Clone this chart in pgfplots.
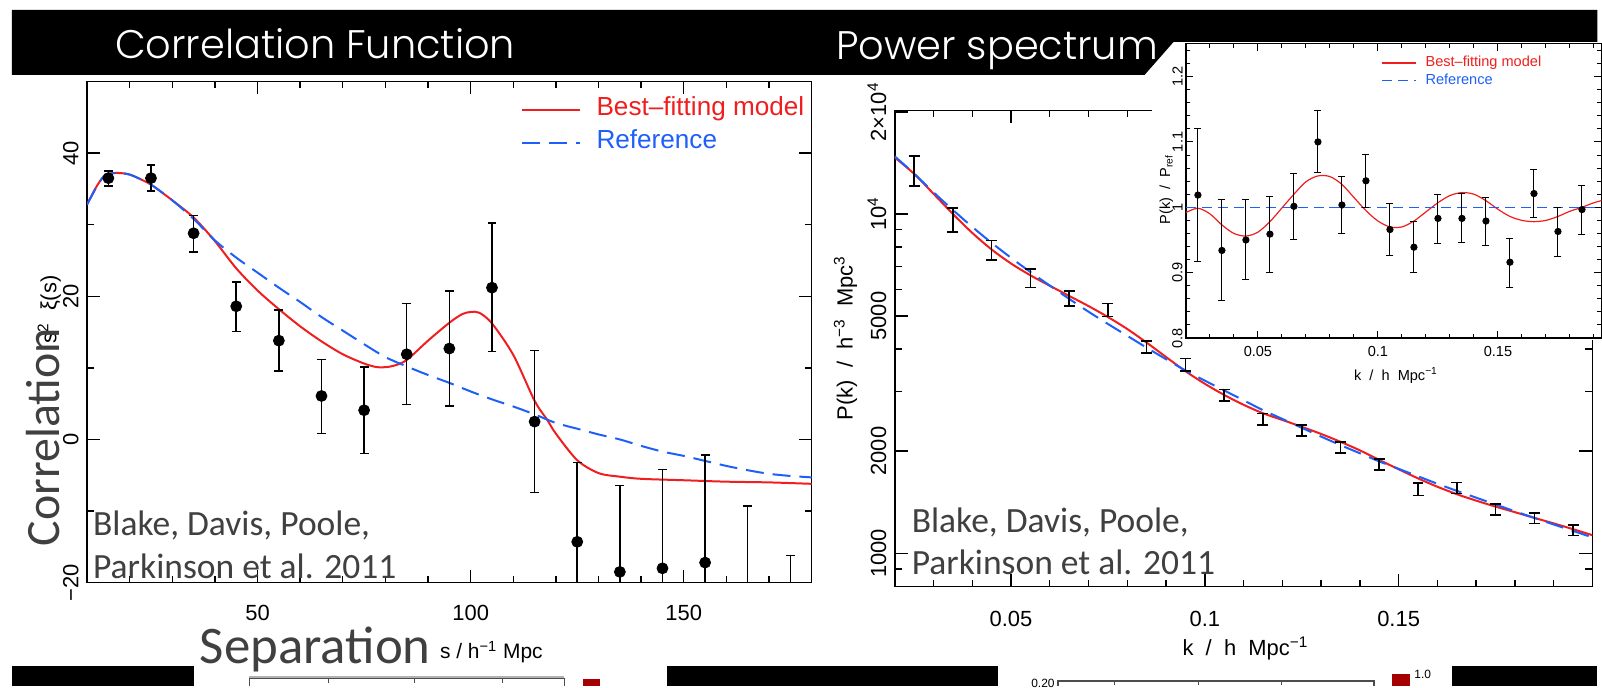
\documentclass[border=0pt]{standalone}
\usepackage{pgfplots}
\pgfplotsset{compat=1.18}
\usepackage{fontspec}
\setmainfont{Liberation Sans}
\newfontfamily\calfont{Carlito}
\newfontfamily\titlefont{Poppins Light}
\definecolor{pgred}{RGB}{240,30,30}
\definecolor{pgblue}{RGB}{30,95,250}
\definecolor{slidegray}{RGB}{64,64,64}

\pgfplotstableread{
s v ep em
15 36.5 1.0 1.1
25 36.5 1.8 1.8
35 28.8 2.5 2.6
45 18.6 3.4 3.5
55 13.8 4.3 4.25
65 6.07 5.13 5.22
75 4.08 6.07 6.02
85 11.9 7.1 7.0
95 12.7 8.05 8.0
105 21.2 9.05 8.9
115 2.49 9.9 9.9
125 -14.3 11.1 11.1
135 -18.5 12.1 12.1
145 -18.0 13.8 13.8
155 -17.2 15.0 15.0
165 -23.0 13.7 13.7
175 -30.0 13.8 13.8
}\xidata

\pgfplotstableread{
k p ep em
0.025 13390 1440 1300
0.035 9600 820 750
0.045 7820 535 495
0.055 6470 410 390
0.065 5640 290 285
0.075 5210 235 220
0.085 4050 170 158
0.095 3600 155 151
0.105 2920 119 114
0.115 2486 97 94
0.125 2305 88 84
0.135 2050 81 77
0.145 1826 67 64
0.155 1545 64 63
0.165 1560 58 58
0.175 1344 51 49
0.185 1269 48 46
0.195 1170 42 41
}\pkdata

\pgfplotstableread{
k r ep em
0.025 1.0187 0.1013 0.1012
0.035 0.934 0.0776 0.077
0.045 0.950 0.062 0.061
0.055 0.959 0.058 0.058
0.065 1.0015 0.0505 0.0505
0.075 1.100 0.048 0.047
0.085 1.0035 0.0435 0.043
0.095 1.0405 0.040 0.0405
0.105 0.966 0.040 0.040
0.115 0.939 0.039 0.038
0.125 0.983 0.037 0.038
0.135 0.983 0.038 0.037
0.145 0.979 0.036 0.037
0.155 0.916 0.037 0.038
0.165 1.021 0.037 0.037
0.175 0.963 0.037 0.038
0.185 0.9965 0.0375 0.0375
}\ratiodata

\begin{document}
\begin{tikzpicture}
\begin{scope}[x=0.5pt,y=0.5pt]
\path[use as bounding box, fill=white] (0,0) rectangle (1602,688);
\end{scope}

% ---------------- Left: correlation function ----------------
\begin{axis}[
  at={(43.65pt,51.85pt)}, anchor=south west, scale only axis,
  width=363.35pt, height=251.3pt,
  xmin=10, xmax=180, ymin=-20, ymax=50,
  xtick={50,100,150}, minor xtick={10,20,30,40,60,70,80,90,110,120,130,140,160,170},
  ytick={-20,0,20,40}, yticklabels={−20,0,20,40}, minor ytick={-10,10,30,50},
  tick align=inside, tick pos=both,
  major tick length=6.5pt, minor tick length=3.5pt,
  every tick/.style={black, line width=0.7pt},
  axis line style={line width=0.8pt},
  /pgf/number format/assume math mode=true,
  tick label style={font=\fontsize{11}{13}\selectfont},
  yticklabel style={rotate=90, anchor=south, inner sep=0pt},
  yticklabel shift=4pt,
  xticklabel style={anchor=north, inner sep=0pt},
  xticklabel shift=11pt,
  ylabel={s\textsuperscript{2}\ \ ξ(s)},
  ylabel style={at={(axis description cs:-0.0425,0.545)}, anchor=base, inner sep=0pt, font=\fontsize{11}{13}\selectfont},
  xlabel={s\ /\ h\textsuperscript{−1}\ Mpc},
  xlabel style={at={(axis description cs:0.558,-0.1387)}, anchor=center, inner sep=0pt, font=\fontsize{10.5}{12}\selectfont},
  legend style={at={(0.598,0.968)}, anchor=north west, draw=none, fill=none,
    font=\fontsize{13.1}{15}\selectfont, row sep=4.5pt, column sep=8pt, inner sep=0pt,
    nodes={inner sep=0pt, text height=9pt, text depth=3pt}},
  legend cell align=left,
  legend image code/.code={\draw[#1] (0pt,0pt) -- (29pt,0pt);},
]
\addplot[pgred, line width=1pt, smooth] coordinates {
(10,32.8)(12,35.1)(14,36.8)(16,37.2)(18,37.2)(20,37.0)(22,36.5)(25,35.6)(28,34.3)(30,33.4)
(35,31.0)(40,27.7)(45,23.9)(50,20.8)(55,18.2)(60,15.8)(65,13.7)(70,11.9)(75,10.6)(78,10.1)
(80,10.1)(82,10.3)(85,11.1)(90,13.8)(95,16.3)(98,17.5)(100,17.8)(102,17.7)(105,16.2)(110,11.8)
(115,5.4)(118,2.7)(120,0.8)(125,-2.9)(130,-4.7)(135,-5.2)(140,-5.5)(150,-5.7)(160,-5.9)(170,-6.0)(180,-6.2)};
\addlegendentry{\textcolor{pgred}{Best–fitting model}}
\addplot[pgblue, line width=1pt, dash pattern=on 9pt off 4.5pt, smooth] coordinates {
(10,32.8)(12,35.0)(14,36.8)(16,37.2)(18,37.2)(20,37.0)(22,36.5)(25,35.6)(30,33.4)(35,30.8)
(40,27.8)(45,25.4)(50,23.3)(55,21.2)(60,19.2)(65,17.1)(70,15.2)(75,13.3)(80,11.5)(85,10.2)
(90,9.0)(95,7.9)(100,6.7)(105,5.6)(110,4.6)(115,3.5)(120,2.3)(125,1.5)(130,0.7)(135,0.0)
(140,-0.9)(145,-1.7)(150,-2.3)(155,-3.0)(160,-3.7)(165,-4.3)(170,-4.8)(175,-5.1)(180,-5.3)};
\addlegendentry{\textcolor{pgblue}{Reference}}
\addplot[forget plot, only marks, mark=*, mark size=2.75pt, black,
  error bars/.cd, y dir=both, y explicit,
  error bar style={line width=0.75pt, black},
  error mark options={rotate=90, mark size=2.25pt, line width=0.75pt, black}]
  table[x=s, y=v, y error plus=ep, y error minus=em] {\xidata};
\end{axis}

% ---------------- Right: power spectrum ----------------
\begin{axis}[
  at={(448.65pt,49.85pt)}, anchor=south west, scale only axis,
  width=349.85pt, height=238.8pt,
  ymode=log, xmin=0.02, xmax=0.2, ymin=798, ymax=20200,
  xtick={0.05,0.1,0.15}, xticklabels={0.05,0.1,0.15},
  minor xtick={0.02,0.03,0.04,0.06,0.07,0.08,0.09,0.11,0.12,0.13,0.14,0.16,0.17,0.18,0.19,0.2},
  ytick={1000,2000,5000,10000,20000},
  yticklabels={1000,2000,5000,10\textsuperscript{4},2×10\textsuperscript{4}},
  minor ytick={800,900,3000,4000,6000,7000,8000,9000},
  tick align=inside, tick pos=both,
  major tick length=6.5pt, minor tick length=3.5pt,
  every tick/.style={black, line width=0.7pt},
  axis line style={line width=0.8pt},
  /pgf/number format/assume math mode=true,
  tick label style={font=\fontsize{11}{13}\selectfont},
  yticklabel style={rotate=90, anchor=south, inner sep=0pt},
  yticklabel shift=4pt,
  xticklabel style={anchor=north, inner sep=0pt},
  xticklabel shift=12pt,
  ylabel={P(k)\ \ /\ \ h\textsuperscript{−3}\ \ Mpc\textsuperscript{3}},
  ylabel style={at={(axis description cs:-0.0705,0.522)}, anchor=center, inner sep=0pt, font=\fontsize{11}{13}\selectfont},
  xlabel={k\ \ /\ \ h\ \ Mpc\textsuperscript{−1}},
  xlabel style={at={(axis description cs:0.5027,-0.129)}, anchor=center, inner sep=0pt, font=\fontsize{11}{13}\selectfont},
]
\addplot[pgred, line width=1pt, smooth] coordinates {
(0.020,14673)(0.025,13132)(0.030,11472)(0.035,10002)(0.040,8796)(0.045,7860)(0.050,7148)
(0.055,6597)(0.060,6146)(0.065,5735)(0.070,5353)(0.075,4970)(0.080,4581)(0.085,4177)
(0.090,3789)(0.095,3442)(0.100,3160)(0.105,2929)(0.110,2740)(0.115,2587)(0.120,2472)
(0.125,2360)(0.130,2248)(0.135,2131)(0.140,2011)(0.145,1885)(0.150,1769)(0.155,1663)
(0.160,1571)(0.165,1494)(0.170,1430)(0.175,1373)(0.180,1322)(0.185,1272)(0.190,1225)
(0.195,1178)(0.200,1131)};
\addplot[pgblue, line width=1pt, dash pattern=on 9pt off 4.5pt, smooth] coordinates {
(0.020,14791)(0.025,13152)(0.030,11588)(0.035,10280)(0.040,9162)(0.045,8222)(0.050,7430)
(0.055,6745)(0.060,6152)(0.065,5623)(0.070,5152)(0.075,4742)(0.080,4375)(0.085,4036)
(0.090,3733)(0.095,3459)(0.100,3228)(0.105,3020)(0.110,2825)(0.115,2642)(0.120,2489)
(0.125,2344)(0.130,2208)(0.135,2084)(0.140,1972)(0.145,1866)(0.150,1774)(0.155,1687)
(0.160,1603)(0.165,1528)(0.170,1459)(0.175,1393)(0.180,1330)(0.185,1272)(0.190,1216)
(0.195,1164)(0.200,1114)};
\addplot[only marks, mark=*, mark size=0.01pt, black,
  error bars/.cd, y dir=both, y explicit,
  error bar style={line width=0.8pt, black},
  error mark options={rotate=90, mark size=2.75pt, line width=0.8pt, black}]
  table[x=k, y=p, y error plus=ep, y error minus=em] {\pkdata};
\end{axis}

% inset white panel
\begin{scope}[x=0.5pt,y=0.5pt]
\fill[white] (1155,347) rectangle (1602,646);
% black title bar with notch
\fill[black] (12,678) -- (1602,678) -- (1602,646) -- (1177,646) -- (1148,613) -- (12,613) -- cycle;
\end{scope}

% ---------------- Inset: ratio ----------------
\begin{axis}[
  at={(594.65pt,174.5pt)}, anchor=south west, scale only axis,
  width=208.35pt, height=147.5pt,
  xmin=0.02, xmax=0.1931, ymin=0.8, ymax=1.25,
  xtick={0.05,0.1,0.15}, xticklabels={0.05,0.1,0.15},
  minor xtick={0.02,0.03,0.04,0.06,0.07,0.08,0.09,0.11,0.12,0.13,0.14,0.16,0.17,0.18,0.19},
  ytick={0.8,0.9,1,1.1,1.2}, yticklabels={0.8,0.9,1,1.1,1.2},
  minor ytick={0.82,0.84,0.86,0.88,0.92,0.94,0.96,0.98,1.02,1.04,1.06,1.08,1.12,1.14,1.16,1.18,1.22,1.24},
  tick align=inside, tick pos=both,
  major tick length=3.5pt, minor tick length=2pt,
  every tick/.style={black, line width=0.5pt},
  axis line style={line width=0.6pt},
  /pgf/number format/assume math mode=true,
  tick label style={font=\fontsize{7.3}{9}\selectfont},
  yticklabel style={rotate=90, anchor=south, inner sep=0pt},
  yticklabel shift=1.5pt,
  xticklabel style={anchor=north, inner sep=0pt},
  xticklabel shift=4pt,
  ylabel={P(k)\ \ /\ \ P\textsubscript{ref}},
  ylabel style={at={(axis description cs:-0.047,0.505)}, anchor=center, inner sep=0pt, font=\fontsize{7.3}{9}\selectfont},
  xlabel={k\ \ /\ \ h\ \ Mpc\textsuperscript{−1}},
  xlabel style={at={(axis description cs:0.5056,-0.129)}, anchor=center, inner sep=1pt, fill=white, font=\fontsize{7.3}{9}\selectfont},
  legend style={at={(0.4697,0.961)}, anchor=north west, draw=none, fill=none,
    font=\fontsize{7.3}{9}\selectfont, row sep=1.45pt, column sep=4.5pt, inner sep=0pt,
    nodes={inner sep=0pt, text height=5.5pt, text depth=1.8pt}},
  legend cell align=left,
  legend image code/.code={\draw[#1] (0pt,0pt) -- (17pt,0pt);},
]
\addplot[pgred, line width=0.6pt, smooth] coordinates {
(0.020,0.992)(0.025,0.9985)(0.030,0.990)(0.035,0.973)(0.040,0.960)(0.045,0.956)(0.050,0.962)
(0.055,0.978)(0.060,0.999)(0.065,1.020)(0.070,1.039)(0.075,1.048)(0.080,1.047)(0.085,1.035)
(0.090,1.015)(0.095,0.995)(0.100,0.979)(0.105,0.970)(0.110,0.970)(0.115,0.979)(0.120,0.993)
(0.125,1.007)(0.130,1.018)(0.135,1.0225)(0.140,1.020)(0.145,1.010)(0.150,0.997)(0.155,0.986)
(0.160,0.980)(0.165,0.978)(0.170,0.980)(0.175,0.986)(0.180,0.994)(0.185,1.000)(0.190,1.007)(0.195,1.012)};
\addlegendentry{\textcolor{pgred}{Best–fitting model}}
\addplot[pgblue, line width=0.6pt, dash pattern=on 5pt off 3pt] coordinates {(0.02,1)(0.1931,1)};
\addlegendentry{\textcolor{pgblue}{Reference}}
\addplot[forget plot, only marks, mark=*, mark size=1.6pt, black,
  error bars/.cd, y dir=both, y explicit,
  error bar style={line width=0.5pt, black},
  error mark options={rotate=90, mark size=1.75pt, line width=0.5pt, black}]
  table[x=k, y=r, y error plus=ep, y error minus=em] {\ratiodata};
\end{axis}

% ---------------- slide overlays ----------------
\begin{scope}[x=0.5pt,y=0.5pt]
\node[anchor=base west, inner sep=0pt, text=white, font=\titlefont\fontsize{20}{24}\selectfont] at (115,629) {Correlation Function};
\node[anchor=base west, inner sep=0pt, text=white, font=\titlefont\fontsize{20}{24}\selectfont] at (838,628) {Power spectrum};

\node[anchor=base west, inner sep=0pt, text=slidegray, font=\calfont\fontsize{17.8}{21}\selectfont] at (93,151) {Blake, Davis, Poole,};
\node[anchor=base west, inner sep=0pt, text=slidegray, font=\calfont\fontsize{17.8}{21}\selectfont] at (93,108) {Parkinson et al. 2011};
\node[anchor=base west, inner sep=0pt, text=slidegray, font=\calfont\fontsize{17.8}{21}\selectfont] at (914,154) {Blake, Davis, Poole,};
\node[anchor=base west, inner sep=0pt, text=slidegray, font=\calfont\fontsize{17.8}{21}\selectfont] at (914,112) {Parkinson et al. 2011};

\node[anchor=base west, inner sep=0pt, text=slidegray, font=\calfont\fontsize{26.5}{30}\selectfont] at (200,23) {Separation};
\node[anchor=base west, inner sep=0pt, rotate=90, text=slidegray, font=\calfont\fontsize{24}{28}\selectfont] at (60,140) {Correlation};

% bottom strip (next slide row, cut)
\fill[black] (12,0) rectangle (195,20);
\fill[black] (669,0) rectangle (1001,20);
\fill[black] (1456,0) rectangle (1602,20);
\draw[black!70, line width=0.6pt] (250,0) -- (250,7.4) -- (566,7.4) -- (566,0);
\draw[black!30, line width=0.8pt] (250,9) -- (566,9);
\foreach \t in {329,416,504} \draw[black!70, line width=0.5pt] (\t,7.4) -- (\t,3);
\fill[red!65!black] (585,0) rectangle (601.6,7.4);
\draw[black!70, line width=0.6pt] (1061,0) -- (1061,5) -- (1378,5) -- (1378,0);
\foreach \t in {1118,1202,1285} \draw[black!70, line width=0.5pt] (\t,5) -- (\t,1);
\node[anchor=east, inner sep=0pt, font=\fontsize{6}{7}\selectfont] at (1058,3) {0.20};
\fill[red!65!black] (1396,0) rectangle (1414,12);
\node[anchor=west, inner sep=0pt, font=\fontsize{6}{7}\selectfont] at (1418,12) {1.0};
\end{scope}
\end{tikzpicture}
\end{document}
